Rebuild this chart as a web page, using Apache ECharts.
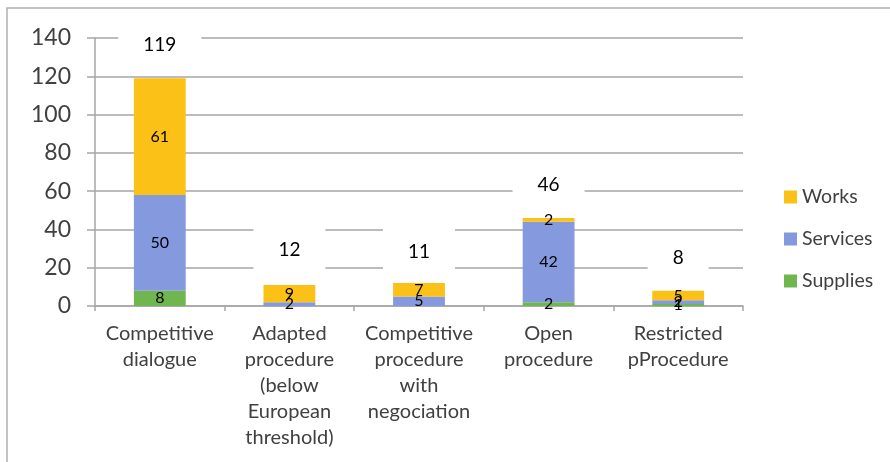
<!DOCTYPE html>
<html>
<head>
<meta charset="utf-8">
<script src="https://cdn.jsdelivr.net/npm/echarts@6/dist/echarts.min.js"></script>
<style>
html,body{margin:0;padding:0;background:#fff;}
#chart{width:890px;height:462px;}
</style>
</head>
<body>
<div id="chart"></div>
<script>
const categories = [
  "Competitive\ndialogue",
  "Adapted\nprocedure\n(below\nEuropean\nthreshold)",
  "Competitive\nprocedure\nwith\nnegociation",
  "Open\nprocedure",
  "Restricted\npProcedure"
];
const supplies = [8, 0, 0, 2, 1];
const services = [50, 2, 5, 42, 2];
const works = [61, 9, 7, 2, 5];
const totals = [119, 12, 11, 46, 8];
const yTicks = [0, 20, 40, 60, 80, 100, 120, 140];

const FONT = "Lato";
const GRID_COLOR = "#a6a6a6";
const TEXT_COLOR = "#404040";

function segLabel() {
  return {
    show: true,
    position: "inside",
    color: "#000",
    fontSize: 16,
    fontFamily: FONT,
    formatter: p => (p.value ? String(p.value) : "")
  };
}

const chart = echarts.init(document.getElementById("chart"));
chart.setOption({
  animation: false,
  backgroundColor: "#fff",
  textStyle: { fontFamily: FONT },
  graphic: [{
    type: "rect",
    shape: { x: 7, y: 8, width: 900, height: 470 },
    style: { fill: "none", stroke: "#b0b0b0", lineWidth: 1.5 },
    z: -1
  }],
  grid: { left: 95, right: 147, top: 38, bottom: 156 },
  legend: {
    orient: "vertical",
    left: 779,
    top: 182,
    itemWidth: 13,
    itemHeight: 13,
    itemGap: 22,
    icon: "rect",
    data: ["Works", "Services", "Supplies"],
    textStyle: { fontSize: 19.5, lineHeight: 20, color: TEXT_COLOR, fontFamily: FONT }
  },
  xAxis: {
    type: "category",
    data: categories,
    axisLine: { lineStyle: { color: GRID_COLOR, width: 1.5 } },
    axisTick: { show: true, length: 5, alignWithLabel: false, lineStyle: { color: GRID_COLOR, width: 1.5 } },
    axisLabel: { color: TEXT_COLOR, fontSize: 20, lineHeight: 26, margin: 15, fontFamily: FONT, interval: 0 }
  },
  yAxis: {
    type: "value",
    min: yTicks[0],
    max: yTicks[yTicks.length - 1],
    interval: yTicks[1] - yTicks[0],
    axisLine: { show: true, lineStyle: { color: GRID_COLOR, width: 1.5 } },
    axisTick: { show: true, length: 8, lineStyle: { color: GRID_COLOR, width: 1.5 } },
    splitLine: { lineStyle: { color: GRID_COLOR, width: 1.5 } },
    axisLabel: { color: TEXT_COLOR, fontSize: 23, margin: 24, fontFamily: FONT }
  },
  series: [
    { name: "Supplies", type: "bar", stack: "s", data: supplies, barWidth: "40%",
      itemStyle: { color: "#70B64F" }, label: segLabel() },
    { name: "Services", type: "bar", stack: "s", data: services, barWidth: "40%",
      itemStyle: { color: "#8599DF" }, label: segLabel() },
    { name: "Works", type: "bar", stack: "s", data: works, barWidth: "40%",
      itemStyle: { color: "#FBC116" }, label: segLabel() },
    { name: "Total", type: "line", data: totals,
      symbol: "circle", symbolSize: 1, showSymbol: true,
      itemStyle: { color: "rgba(0,0,0,0)" },
      lineStyle: { opacity: 0 },
      z: 5,
      label: {
        show: true, position: "top", distance: 8,
        color: "#000", fontSize: 19, fontFamily: FONT,
        backgroundColor: "#fff", padding: [15, 25]
      }
    }
  ]
});
</script>
</body>
</html>
